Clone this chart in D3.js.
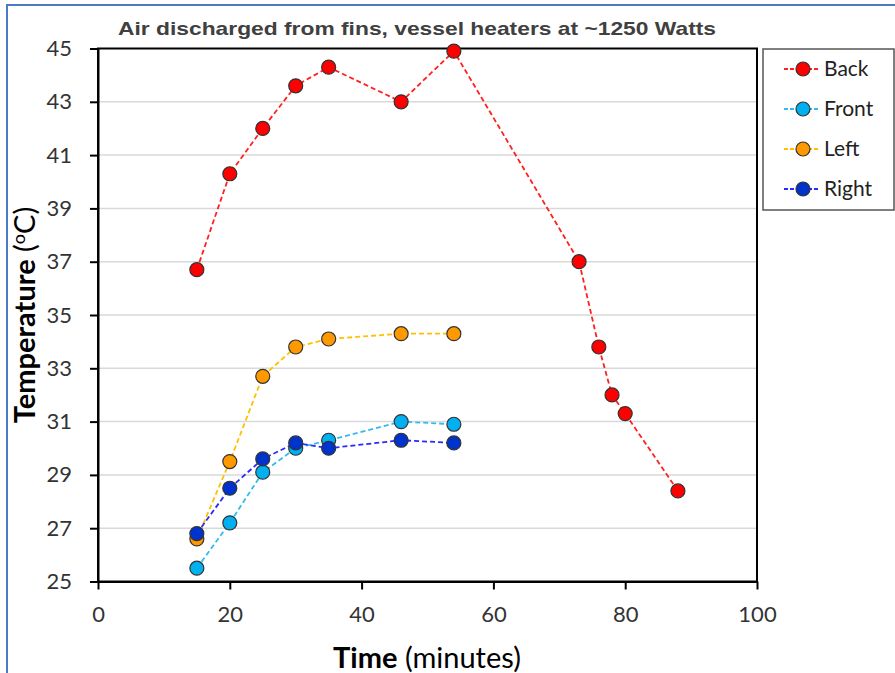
<!DOCTYPE html>
<html>
<meta charset="utf-8">
<title>Air discharged from fins</title>
<script src="https://d3js.org/d3.v7.min.js"></script>
<style>
body { margin: 0; background: #fff; }
text { font-family: Lato, "Open Sans", sans-serif; }
.grid line { stroke: #d9d9d9; stroke-width: 1.5; }
.axis path, .axis line { stroke: #000; stroke-width: 2; }
.axis text { font-size: 22px; fill: #333; }
</style>
<body>
<svg width="895" height="673"></svg>
<script>
// data
var times = [15, 20, 25, 30, 35, 46, 54];
var backTimes = [15, 20, 25, 30, 35, 46, 54, 73, 76, 78, 80, 88];
var back  = [36.7, 40.3, 42.0, 43.6, 44.3, 43.0, 44.9, 37.0, 33.8, 32.0, 31.3, 28.4];
var front = [25.5, 27.2, 29.1, 30.0, 30.3, 31.0, 30.9];
var left  = [26.6, 29.5, 32.7, 33.8, 34.1, 34.3, 34.3];
var right = [26.8, 28.5, 29.6, 30.2, 30.0, 30.3, 30.2];
var xTicks = [0, 20, 40, 60, 80, 100];
var yTicks = [25, 27, 29, 31, 33, 35, 37, 39, 41, 43, 45];

var series = [
  {name: "Back",  x: backTimes, y: back,  line: "#ff2020", fill: "#ff0000"},
  {name: "Front", x: times,     y: front, line: "#33bbee", fill: "#00b0f0"},
  {name: "Left",  x: times,     y: left,  line: "#ffc000", fill: "#ff9900"},
  {name: "Right", x: times,     y: right, line: "#2a2aff", fill: "#0033cc"}
];

var svg = d3.select("svg"),
  margin = {top: 48.5, left: 98},
  width = 659,
  height = 533;

// blue outer frame (top and left edges)
svg.append("path").attr("d", "M7,673 L7,5 L895,5")
  .attr("fill", "none").attr("stroke", "#4a7bc4").attr("stroke-width", 2);

var x = d3.scaleLinear().domain([0, 100]).range([0, width]),
  y = d3.scaleLinear().domain([25, 45]).range([height, 0]);

var g = svg.append("g").attr("transform", "translate(" + margin.left + "," + margin.top + ")");

g.append("g").attr("class", "grid")
  .selectAll("line").data(yTicks.slice(1, -1)).enter().append("line")
  .attr("x1", 0).attr("x2", width)
  .attr("y1", function(d) { return y(d); }).attr("y2", function(d) { return y(d); });

// frame
g.append("rect").attr("width", width).attr("height", height)
  .attr("fill", "none").attr("stroke", "#000").attr("stroke-width", 2);

g.append("g").attr("class", "axis")
  .attr("transform", "translate(0," + height + ")")
  .call(d3.axisBottom(x).tickValues(xTicks).tickSize(8).tickSizeOuter(0).tickPadding(17));

g.append("g").attr("class", "axis")
  .call(d3.axisLeft(y).tickValues(yTicks).tickSize(8).tickSizeOuter(0).tickPadding(18));

var line = d3.line()
  .x(function(d) { return x(d[0]); })
  .y(function(d) { return y(d[1]); });

series.forEach(function(s) {
  var pts = s.x.map(function(t, i) { return [t, s.y[i]]; });
  g.append("path").datum(pts)
    .attr("fill", "none").attr("stroke", s.line).attr("stroke-width", 1.8)
    .attr("stroke-dasharray", "5,3").attr("d", line);
});
series.forEach(function(s) {
  var pts = s.x.map(function(t, i) { return [t, s.y[i]]; });
  g.selectAll(null).data(pts).enter().append("circle")
    .attr("cx", function(d) { return x(d[0]); })
    .attr("cy", function(d) { return y(d[1]); })
    .attr("r", 7)
    .attr("fill", s.fill).attr("stroke", "#333").attr("stroke-width", 1.2);
});

// title
svg.append("text").attr("x", 417).attr("y", 35).attr("text-anchor", "middle")
  .style("font-family", "'Liberation Sans', Arial, sans-serif")
  .style("font-weight", "bold").style("font-size", "19px").attr("fill", "#404040")
  .attr("textLength", 598).attr("lengthAdjust", "spacingAndGlyphs")
  .text("Air discharged from fins, vessel heaters at ~1250 Watts");

// axis titles
var xt = svg.append("text").attr("x", 427).attr("y", 668).attr("text-anchor", "middle")
  .style("font-size", "29px").attr("fill", "#000");
xt.append("tspan").style("font-weight", "bold").text("Time");
xt.append("tspan").text(" (minutes)");

var yt = svg.append("text").attr("transform", "translate(35,315) rotate(-90)")
  .attr("text-anchor", "middle").style("font-size", "29px").attr("fill", "#000");
yt.append("tspan").style("font-weight", "bold").text("Temperature");
yt.append("tspan").text(" (");
yt.append("tspan").attr("dy", -10).style("font-size", "18px").text("o");
yt.append("tspan").attr("dy", 10).text("C)");

// legend
var lg = svg.append("g").attr("transform", "translate(763,49)");
lg.append("rect").attr("width", 131).attr("height", 161)
  .attr("fill", "#fff").attr("stroke", "#555").attr("stroke-width", 1.5);
series.forEach(function(s, i) {
  var yy = 20 + i * 40;
  lg.append("line").attr("x1", 21).attr("x2", 57).attr("y1", yy).attr("y2", yy)
    .attr("stroke", s.line).attr("stroke-width", 1.8).attr("stroke-dasharray", "4,2");
  lg.append("circle").attr("cx", 40).attr("cy", yy).attr("r", 7)
    .attr("fill", s.fill).attr("stroke", "#333").attr("stroke-width", 1.2);
  lg.append("text").attr("x", 61).attr("y", yy + 7).style("font-size", "21px")
    .attr("fill", "#222").text(s.name);
});
</script>
</body>
</html>
